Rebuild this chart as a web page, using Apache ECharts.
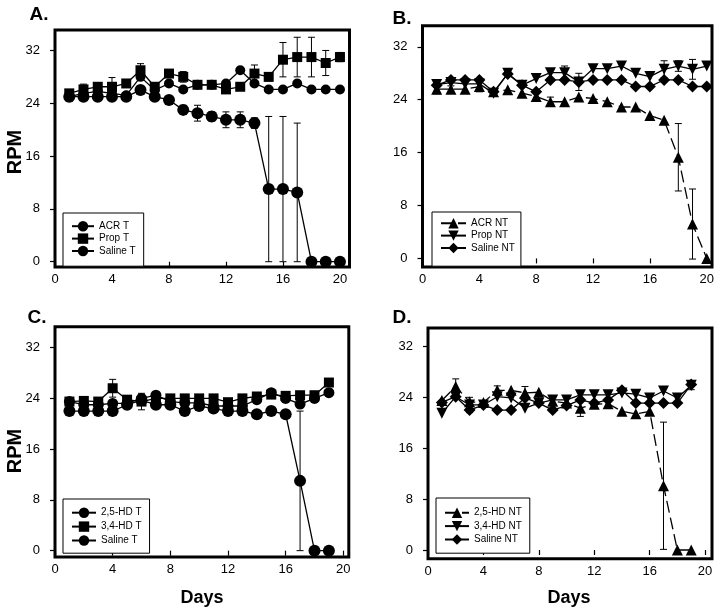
<!DOCTYPE html>
<html>
<head>
<meta charset="utf-8">
<script src="https://cdn.jsdelivr.net/npm/echarts@6/dist/echarts.min.js"></script>
<style>
html,body{margin:0;padding:0;background:#fff;}
#chart{width:720px;height:614px;}
</style>
</head>
<body>
<div id="chart"></div>
<script>
// ---------- data ----------
const daysAB = [1,2,3,4,5,6,7,8,9,10,11,12,13,14,15,16,17,18,19,20];
const daysCD = [1,2,3,4,5,6,7,8,9,10,11,12,13,14,15,16,17,18,19];
const xTicks = [0,4,8,12,16,20];
const yTicks = [0,8,16,24,32];

// Panel A
const acrT      = [25.0,25.0,25.0,25.0,25.0,26.0,25.0,24.5,23.0,22.5,22.0,21.5,21.5,21.0,11.0,11.0,10.5,0,0,0];
const acrTErr   = [0.7,0.4,0.4,0,0,0.6,0,0,0.7,1.2,0.7,1.2,1.2,0.8,11,11,10.5,0,0,0];
const propT     = [25.5,26.1,26.5,26.5,27.0,29.0,26.5,28.5,28.0,26.8,26.8,26.1,26.5,28.5,28.0,30.6,31.0,31.0,30.1,31.0];
const propTErr  = [0.4,0.8,0.5,1.4,0,1.0,0,0,0.8,0,0,0,0,1.3,0.6,2.6,3.0,3.0,1.9,0.7];
const salineTA  = [25.0,25.5,25.8,25.5,25.2,28.0,26.0,27.0,26.1,26.8,26.8,27.0,29.0,27.0,26.1,26.1,27.0,26.1,26.1,26.1];
// Panel B
const acrNT     = [25.6,25.6,25.6,26.0,25.2,25.5,25.0,24.5,23.7,23.7,24.4,24.2,23.7,22.9,22.9,21.6,20.9,15.3,5.2,0];
const acrNTErr  = [0.7,0.5,0,0.8,0,0,0,0,0.7,0,0,0,0,0,0,0,0,5.1,5.3,0];
const propNT    = [26.3,26.6,26.4,26.4,25.0,28.0,26.2,27.2,28.1,28.1,26.7,28.7,28.7,29.1,28.0,27.5,28.6,29.1,28.6,29.1];
const propNTErr = [0.4,0,0,0,0,0,0,0,0,1.0,1.3,0,0,0,0,0,1.3,0.8,1.5,0];
const salineNTB = [26.2,27.0,27.0,27.0,25.2,27.9,26.2,25.2,27.0,27.0,26.7,27.0,27.0,27.0,26.0,26.0,27.0,27.0,26.0,26.0];
// Panel C
const hd25T     = [22.0,22.0,22.0,22.0,23.0,23.7,23.0,23.0,22.0,22.8,22.4,22.0,22.0,21.5,22.0,21.5,11.0,0,0];
const hd25TErr  = [0,0,0,0,0,0,0,0,0,0.6,0,0,0,0,0.6,0,11,0,0];
const hd34T     = [23.5,23.6,23.5,25.6,23.8,23.5,24.0,24.0,24.0,24.0,24.0,23.4,24.0,24.3,24.6,24.4,24.5,24.5,26.5];
const hd34TErr  = [0,0,0,1.4,0.6,1.3,0,0,0.6,0.6,0.6,0,0.6,0.5,0,0,0,0,0];
const salineTC  = [23.5,23.0,23.0,23.2,23.2,24.0,24.5,23.5,23.3,23.3,22.8,22.8,22.8,23.8,24.9,24.0,23.1,24.0,24.9];
// Panel D
const hd25NT    = [23.5,25.7,23.3,23.2,25.1,25.1,24.7,24.8,23.4,23.1,22.3,22.9,23.0,21.8,21.4,21.8,10.1,0,0];
const hd25NTErr = [0,1.2,0,0,0.7,0,1.0,0,0,0,1.3,0,0.7,0,0,0,10,0,0];
const hd34NT    = [21.5,24.1,22.8,22.8,24.1,23.9,22.3,23.1,23.6,23.6,24.4,24.4,24.4,24.7,24.5,23.9,25.0,23.9,25.9];
const hd34NTErr = [0,0,1.2,0,0,0,0,0,0,0,0,0,0,0,0,0,0,0,0.7];
const salineNTD = [23.2,24.1,22.0,22.8,22.0,22.0,23.9,23.1,22.0,22.7,23.6,23.1,23.6,25.1,23.1,23.1,23.1,23.1,26.0];

// ---------- build ----------
const FONT = '"Liberation Sans", Arial, sans-serif';
const DOWN = 'path://M0,0L10,0L5,10Z';

const panels = [
  { grid:{left:55, top:30, width:294.5, height:237}, x:[0,20.67], y:[-0.8,35.1], days:daysAB,
    legendPos:{left:63, top:213, padding:[8,8,10,8], itemWidth:22, itemGap:2},
    series:[
      {name:'ACR T', vals:acrT, err:acrTErr, symbol:'circle', size:12, dash:'solid'},
      {name:'Prop T', vals:propT, err:propTErr, symbol:'rect', size:10, dash:'solid'},
      {name:'Saline T', vals:salineTA, err:null, symbol:'circle', size:10, dash:'solid'}
    ]},
  { grid:{left:422.5, top:25.7, width:289.5, height:241.3}, x:[0,20.37], y:[-1.3,35.2], days:daysAB,
    legendPos:{left:432, top:212, padding:[6,6,13,8], itemWidth:25, itemGap:2},
    series:[
      {name:'ACR NT', vals:acrNT, err:acrNTErr, symbol:'triangle', size:11, dash:[12,5]},
      {name:'Prop NT', vals:propNT, err:propNTErr, symbol:DOWN, size:11, dash:'solid'},
      {name:'Saline NT', vals:salineNTB, err:null, symbol:'diamond', size:12, dash:'solid'}
    ]},
  { grid:{left:55, top:326.7, width:293.8, height:230.3}, x:[0,20.38], y:[-1.0,35.3], days:daysCD,
    legendPos:{left:63, top:499, padding:[8.5,8,7.5,8], itemWidth:24, itemGap:3.5},
    series:[
      {name:'2,5-HD T', vals:hd25T, err:hd25TErr, symbol:'circle', size:12, dash:'solid'},
      {name:'3,4-HD T', vals:hd34T, err:hd34TErr, symbol:'rect', size:10, dash:'solid'},
      {name:'Saline T', vals:salineTC, err:null, symbol:'circle', size:11, dash:'solid'}
    ]},
  { grid:{left:428, top:328, width:284, height:230.7}, x:[0,20.5], y:[-1.37,34.9], days:daysCD,
    legendPos:{left:436, top:498, padding:[9.5,8,8.5,8], itemWidth:24, itemGap:3},
    series:[
      {name:'2,5-HD NT', vals:hd25NT, err:hd25NTErr, symbol:'triangle', size:11, dash:[12,5]},
      {name:'3,4-HD NT', vals:hd34NT, err:hd34NTErr, symbol:DOWN, size:11, dash:'solid'},
      {name:'Saline NT', vals:salineNTD, err:null, symbol:'diamond', size:12, dash:'solid'}
    ]}
];

function renderErr(params, api){
  const x = api.value(0), lo = api.value(1), hi = api.value(2);
  const p1 = api.coord([x, hi]), p2 = api.coord([x, lo]);
  const w = 3.5;
  const st = {stroke:'#000', lineWidth:1};
  return {type:'group', children:[
    {type:'line', shape:{x1:p1[0], y1:p1[1], x2:p2[0], y2:p2[1]}, style:st},
    {type:'line', shape:{x1:p1[0]-w, y1:p1[1], x2:p1[0]+w, y2:p1[1]}, style:st},
    {type:'line', shape:{x1:p2[0]-w, y1:p2[1], x2:p2[0]+w, y2:p2[1]}, style:st}
  ]};
}

const grid = [], xAxis = [], yAxis = [], series = [], legend = [];
panels.forEach((p, i) => {
  grid.push(Object.assign({show:true, borderColor:'#000', borderWidth:3, backgroundColor:'transparent',
                           containLabel:false, outerBoundsMode:'none'}, p.grid));
  xAxis.push({type:'value', gridIndex:i, min:p.x[0], max:p.x[1],
    axisLine:{show:false}, splitLine:{show:false},
    axisTick:{show:true, inside:false, length:5, customValues:xTicks, lineStyle:{color:'#000', width:1.2}},
    axisLabel:{customValues:xTicks, color:'#000', fontFamily:FONT, fontSize:13, margin:6}});
  yAxis.push({type:'value', gridIndex:i, min:p.y[0], max:p.y[1],
    axisLine:{show:false}, splitLine:{show:false},
    axisTick:{show:true, inside:false, length:5, customValues:yTicks, lineStyle:{color:'#000', width:1.2}},
    axisLabel:{customValues:yTicks, color:'#000', fontFamily:FONT, fontSize:13, margin:15}});
  p.series.forEach((s, k) => {
    if (s.err) {
      const ed = [];
      p.days.forEach((d, j) => { if (s.err[j] > 0) ed.push([d, s.vals[j] - s.err[j], s.vals[j] + s.err[j]]); });
      series.push({type:'custom', name:'err_' + i + '_' + k, xAxisIndex:i, yAxisIndex:i,
        renderItem:renderErr, data:ed, encode:{x:0, y:[1,2]}, clip:false, z:1, silent:true, animation:false});
    }
    series.push({type:'line', name:s.name, xAxisIndex:i, yAxisIndex:i,
      data:p.days.map((d, j) => [d, s.vals[j]]),
      symbol:s.symbol, symbolSize:s.size, showAllSymbol:true,
      lineStyle:{color:'#000', width:1.3, type:s.dash},
      itemStyle:{color:'#000', borderWidth:0},
      z:3 + k, silent:true, animation:false});
  });
  legend.push(Object.assign({orient:'vertical', data:p.series.map(s => s.name),
    itemHeight:13,
    borderColor:'#000', borderWidth:1, backgroundColor:'#fff', borderRadius:0,
    textStyle:{color:'#000', fontFamily:FONT, fontSize:10}, selectedMode:false, z:10}, p.legendPos));
});

const bold = (txt, x, y, size, rot) => ({type:'text', x:x, y:y, rotation:rot || 0,
  style:{text:txt, fontFamily:FONT, fontWeight:'bold', fontSize:size, fill:'#000',
         textAlign:'center', textVerticalAlign:'middle'}});

const graphic = [
  bold('A.', 39, 15, 19),
  bold('B.', 402, 19, 19),
  bold('C.', 37, 318, 19),
  bold('D.', 402, 318, 19),
  bold('RPM', 15, 152, 20, Math.PI / 2),
  bold('RPM', 15, 451, 20, Math.PI / 2),
  bold('Days', 202, 598, 18),
  bold('Days', 569, 598, 18)
];

const chart = echarts.init(document.getElementById('chart'), null, {renderer:'canvas'});
chart.setOption({backgroundColor:'#fff', animation:false, grid, xAxis, yAxis, series, legend, graphic});
</script>
</body>
</html>
